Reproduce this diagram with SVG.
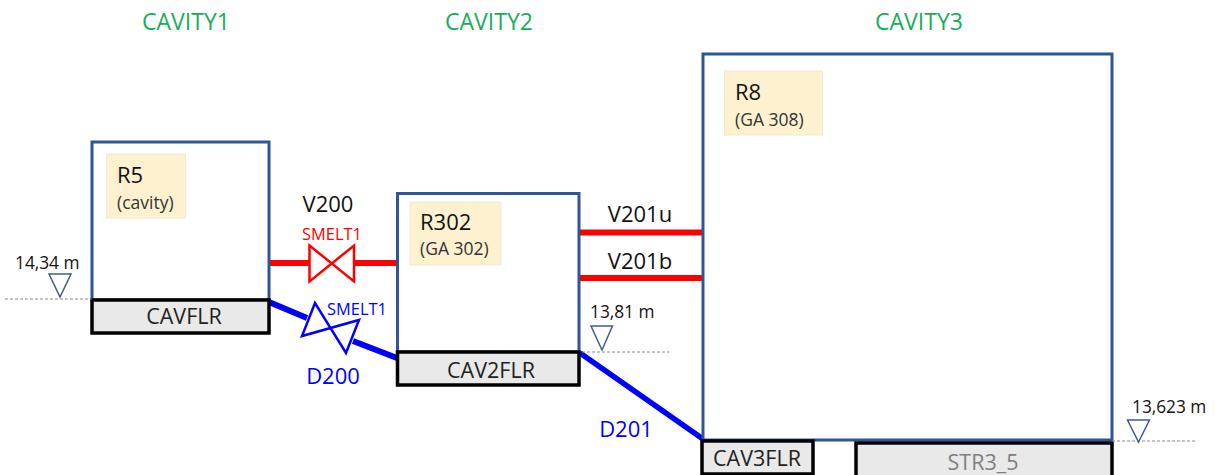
<svg xmlns="http://www.w3.org/2000/svg" width="1215" height="475" viewBox="0 0 1215 475">
<style>
text{font-family:"Open Sans","Noto Sans","Liberation Sans",sans-serif;fill:#111}
.cav{font-size:23px;fill:#17ad5c;text-anchor:middle}
.room{fill:#fff;stroke:#2f5597;stroke-width:3}
.tag{fill:#fdf1d0;stroke:#f3ead2;stroke-width:1}
.rn{font-size:22px}
.rs{font-size:17.500px;fill:#333}
.flr{fill:#e9e9e9;stroke:#000;stroke-width:3.500}
.fl{font-size:21.500px;text-anchor:middle;fill:#222}
.lv{font-size:17.300px}
.tri{fill:#fff;stroke:#3f5a94;stroke-width:1.500}
.dot{stroke:#8a8a8a;stroke-width:1;stroke-dasharray:3 2;fill:none}
.vl{font-size:22px;text-anchor:middle}
.sm{font-size:16.400px;text-anchor:middle}
.red{stroke:#f00;fill:none}
.blue{stroke:#00f;fill:none}
</style>
<g id="connectors">
<path class="red" stroke-width="6" d="M269 263H309M354 263H397M579 232.500H702M579 278H702"/>
<path class="blue" stroke-width="6" d="M269 302L307 318M353 341L397 358"/>
<path class="blue" stroke-width="5.500" d="M580 353L703 439"/>
</g>
<g id="title1"><text class="cav" x="186" y="30">CAVITY1</text></g>
<g id="title2"><text class="cav" x="489" y="30">CAVITY2</text></g>
<g id="title3"><text class="cav" x="919" y="30">CAVITY3</text></g>
<g id="R5">
<rect class="room" x="92" y="142" width="177" height="158"/>
<rect class="tag" x="106.500" y="154" width="79" height="64"/>
<text class="rn" x="117" y="183">R5</text>
<text class="rs" x="117" y="209">(cavity)</text>
</g>
<g id="CAVFLR">
<rect class="flr" x="92" y="300" width="177" height="33"/>
<text class="fl" x="184" y="324">CAVFLR</text>
</g>
<g id="R302">
<rect class="room" x="397.500" y="193.500" width="181.500" height="158.500"/>
<rect class="tag" x="410" y="202" width="91" height="63"/>
<text class="rn" x="420" y="230">R302</text>
<text class="rs" x="420" y="255">(GA 302)</text>
</g>
<g id="CAV2FLR">
<rect class="flr" x="397.500" y="352" width="181.500" height="33"/>
<text class="fl" x="491" y="378">CAV2FLR</text>
</g>
<g id="R8">
<rect class="room" x="703" y="54" width="409" height="386"/>
<rect class="tag" x="724.500" y="71" width="98" height="64"/>
<text class="rn" x="735" y="100">R8</text>
<text class="rs" x="735" y="126">(GA 308)</text>
</g>
<g id="CAV3FLR">
<rect class="flr" x="702" y="441" width="111" height="33"/>
<text class="fl" x="757" y="466">CAV3FLR</text>
</g>
<g id="STR3_5">
<rect class="flr" x="856" y="443" width="256" height="36"/>
<text class="fl" x="983" y="470" style="fill:#808080">STR3_5</text>
</g>
<g id="V200">
<path d="M309.500 245.500L354 281.500V245.500L309.500 281.500Z" fill="#fff" stroke="#f00" stroke-width="2.500"/>
<text class="vl" x="328" y="212">V200</text>
<text class="sm" x="332" y="240" style="fill:#f00">SMELT1</text>
</g>
<g id="D200">
<path d="M315 303L302 336L359 320L346 353Z" fill="#fff" stroke="#00f" stroke-width="2.500"/>
<text class="sm" x="357" y="315" style="fill:#00f">SMELT1</text>
<text class="vl" x="333" y="384" style="fill:#00f">D200</text>
</g>
<g id="V201u"><text class="vl" x="640" y="222">V201u</text></g>
<g id="V201b"><text class="vl" x="640" y="269">V201b</text></g>
<g id="D201"><text class="vl" x="626" y="437" style="fill:#00f">D201</text></g>
<g id="level1">
<path class="dot" d="M5 299H92"/>
<path class="tri" d="M49 274H71L60 297Z"/>
<text class="lv" x="15" y="269">14,34 m</text>
</g>
<g id="level2">
<path class="dot" d="M582 352H669"/>
<path class="tri" d="M591 326H612.500L602 350Z"/>
<text class="lv" x="590" y="318">13,81 m</text>
</g>
<g id="level3">
<path class="dot" d="M1112 441H1197"/>
<path class="tri" d="M1127.500 420H1149.500L1138.500 442Z"/>
<text class="lv" x="1132" y="413">13,623 m</text>
</g>
</svg>
